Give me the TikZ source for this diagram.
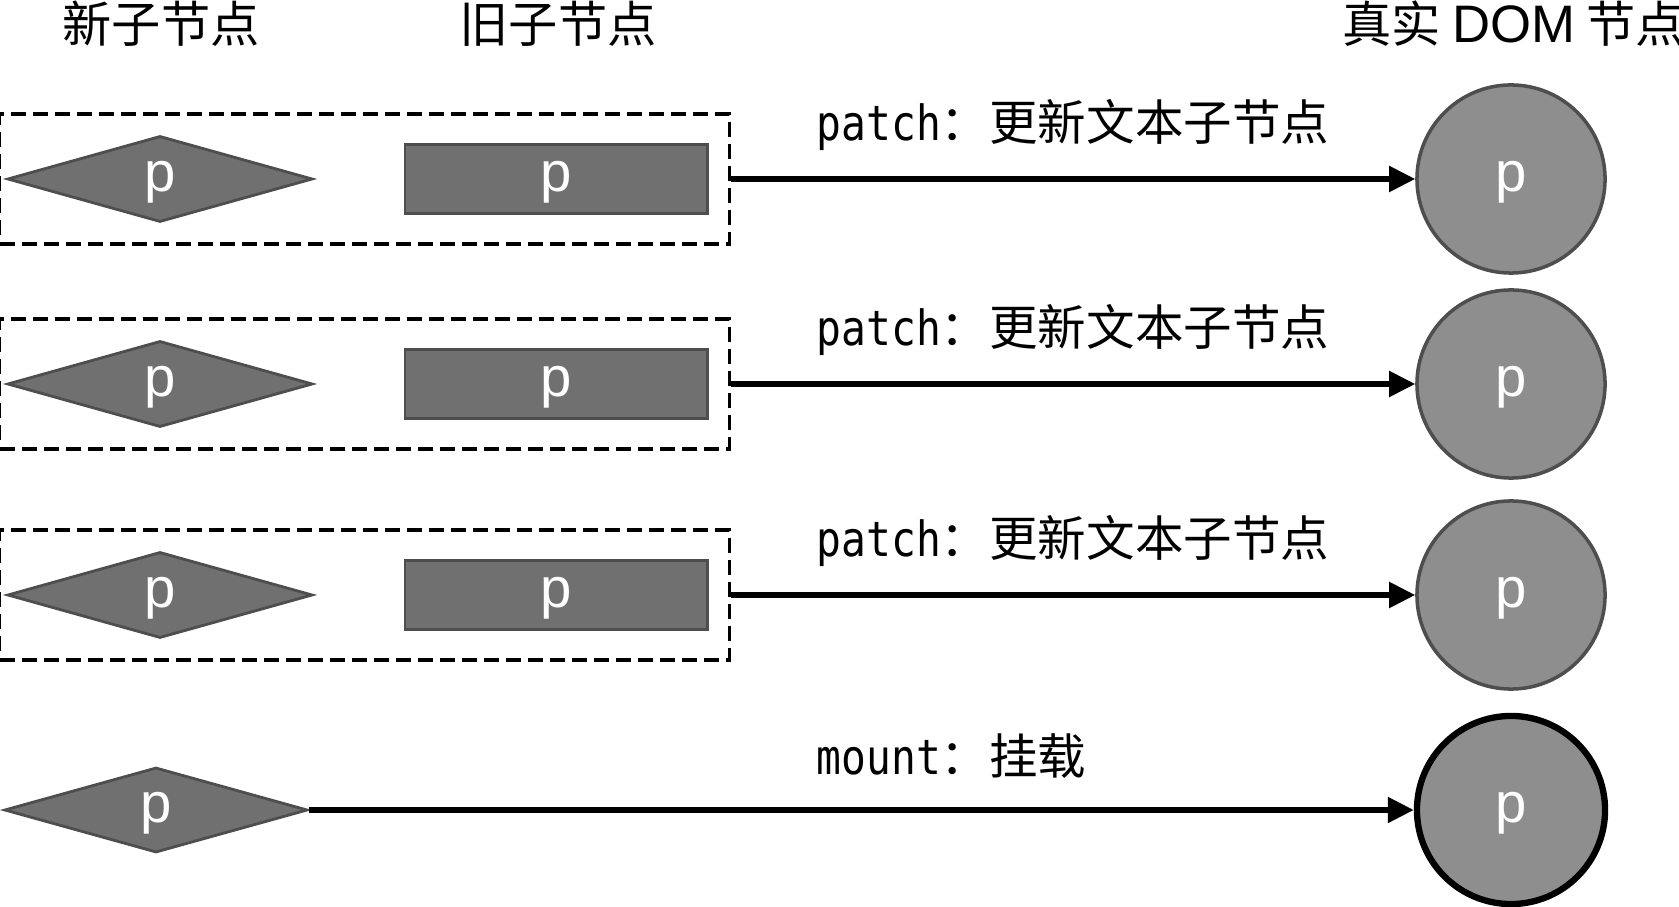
\documentclass[tikz,border=0pt]{standalone}
\usepackage{fontspec}
\setmainfont{Noto Sans CJK SC}
\newfontfamily\monofont[FakeStretch=0.85]{DejaVu Sans Mono}
\newfontfamily\pfont{Liberation Sans}
\usetikzlibrary{arrows.meta,positioning,shapes.geometric}

\definecolor{vnodegray}{RGB}{112,112,112}
\definecolor{vnodeedge}{RGB}{78,78,78}
\definecolor{domgray}{RGB}{142,142,142}

\begin{document}
\begin{tikzpicture}[
    x=0.01cm, y=-0.01cm, % 以像素為單位
    >={Triangle[length=2.6mm,width=2.5mm]},
    ptext/.style={text=white, font=\pfont\fontsize{16}{16}\selectfont,
        text height=0.374cm, text depth=0.12cm},
    newnode/.style={diamond, draw=vnodeedge, line width=0.8pt, fill=vnodegray,
        minimum width=3.05cm, minimum height=0.86cm, inner sep=0pt, ptext},
    oldnode/.style={rectangle, draw=vnodeedge, line width=0.8pt, fill=vnodegray,
        minimum width=3.02cm, minimum height=0.69cm, inner sep=0pt, ptext},
    domnode/.style={circle, draw=vnodeedge, line width=1pt, fill=domgray,
        minimum size=1.88cm, inner sep=0pt, ptext},
    pairbox/.style={draw, line width=0.9pt, dash pattern=on 1.5mm off 0.7mm,
        minimum width=7.29cm, minimum height=1.3cm, inner sep=0pt},
    header/.style={font=\fontsize{14}{16}\selectfont},
    oplabel/.style={anchor=west, inner sep=0pt, font=\fontsize{13.8}{16}\selectfont},
    link/.style={->, line width=1.5pt}
]

    % --- 1. 畫布範圍 ---
    \useasboundingbox (0,0) rectangle (1679,907);

    % --- 2. 標題 ---
    \node[header] (hnew) at (161,24) {新子节点};
    \node[header] (hold) at (558,24) {旧子节点};
    \node[header, anchor=west, inner sep=0pt] (hdom) at (1342,24) {真实 {\pfont\fontsize{15}{16}\selectfont DOM} 节点};

    % --- 3. patch 三行 ---
    \foreach \row/\y in {1/179, 2/384, 3/595} {
        \node[pairbox] (pair\row) at (364.5,\y) {};
        \node[newnode] (new\row) at (160,\y) {p};
        \node[oldnode] (old\row) at (556,\y) {p};
        \node[domnode] (dom\row) at (1511,\y) {p};
        \draw[link] (pair\row.east) -- (dom\row.west);
        \node[oplabel] (op\row) at (816,\y-54) {{\monofont patch}：更新文本子节点};
    }

    % --- 4. mount 一行 ---
    \node[newnode, minimum width=3.03cm, minimum height=0.85cm] (new4) at (156,810) {p};
    \node[domnode, draw=black, line width=1.8pt] (dom4) at (1511,810) {p};
    \draw[link] (new4.east) -- (dom4.west);
    \node[oplabel] (op4) at (816,756) {{\monofont mount}：挂载};

\end{tikzpicture}
\end{document}
